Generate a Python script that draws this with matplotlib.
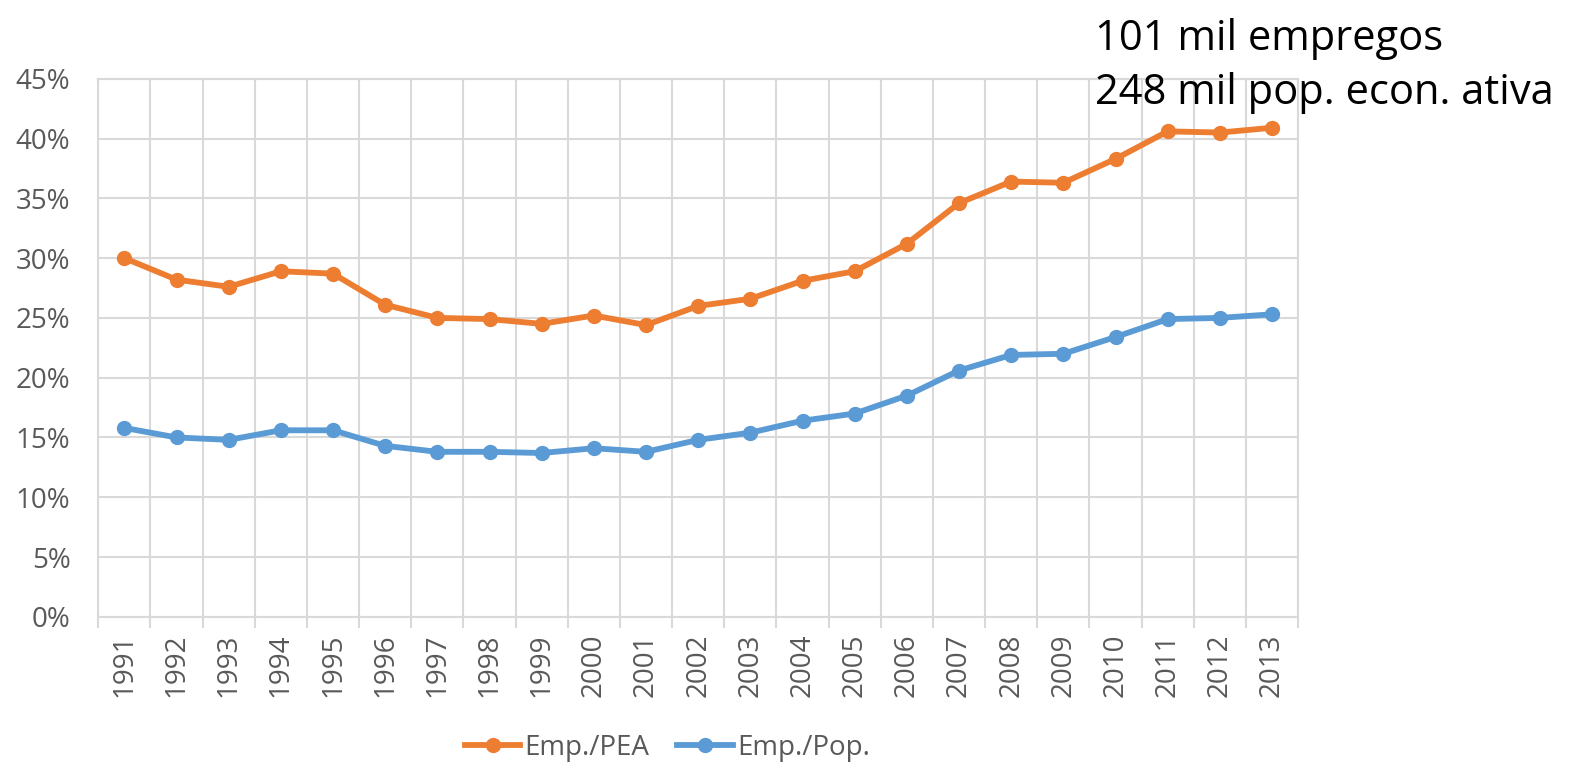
import matplotlib.pyplot as plt
import numpy as np
from matplotlib.ticker import FixedLocator, PercentFormatter

plt.rcParams['font.family'] = ['Open Sans', 'DejaVu Sans']

years = [str(y) for y in range(1991, 2014)]
emp_pea = [30.0, 28.2, 27.6, 28.9, 28.7, 26.1, 25.0, 24.9, 24.5, 25.2, 24.4, 26.0,
           26.6, 28.1, 28.9, 31.2, 34.6, 36.4, 36.3, 38.3, 40.6, 40.5, 40.9]
emp_pop = [15.8, 15.0, 14.8, 15.6, 15.6, 14.3, 13.8, 13.8, 13.7, 14.1, 13.8, 14.8,
           15.4, 16.4, 17.0, 18.5, 20.6, 21.9, 22.0, 23.4, 24.9, 25.0, 25.3]

orange = '#ED7D31'
blue = '#5B9BD5'
grid_c = '#D9D9D9'
text_c = '#595959'

fig = plt.figure(figsize=(15.85, 7.72), dpi=100)
ax = fig.add_axes([0.062, 0.201, 0.757, 0.697])

x = np.arange(len(years))
ax.plot(x, emp_pea, color=orange, lw=4.2, marker='o', ms=10, label='Emp./PEA')
ax.plot(x, emp_pop, color=blue, lw=4.2, marker='o', ms=10, label='Emp./Pop.')

ax.set_xlim(-0.5, len(years) - 0.5)
ax.set_ylim(0, 45)
ax.set_yticks(np.arange(0, 46, 5))
ax.yaxis.set_major_formatter(PercentFormatter(decimals=0))

# category labels at centres, grid lines at boundaries
ax.set_xticks(x)
ax.set_xticklabels(years, rotation=90)
ax.xaxis.set_minor_locator(FixedLocator(np.arange(-0.5, len(years), 1.0)))
ax.tick_params(axis='x', which='major', length=0, pad=12, labelsize=20, labelcolor=text_c)
ax.tick_params(axis='x', which='minor', length=8, color=grid_c, width=1.5)
ax.tick_params(axis='y', length=0, pad=20, labelsize=20, labelcolor=text_c)

ax.grid(axis='y', color=grid_c, lw=1.5)
ax.grid(axis='x', which='minor', color=grid_c, lw=1.5)
ax.set_axisbelow(True)
for side in ['top', 'right', 'left', 'bottom']:
    ax.spines[side].set_color(grid_c)
    ax.spines[side].set_linewidth(1.5)

fig.legend(loc='center', bbox_to_anchor=(0.421, 0.031), ncol=2, frameon=False,
           fontsize=20, labelcolor=text_c, handlelength=2.0, columnspacing=1.0,
           handletextpad=0.15)

fig.text(0.691, 0.95, '101 mil empregos', fontsize=30, va='center', ha='left')
fig.text(0.691, 0.88, '248 mil pop. econ. ativa', fontsize=30, va='center', ha='left')

fig.savefig('out.png', dpi=100)
